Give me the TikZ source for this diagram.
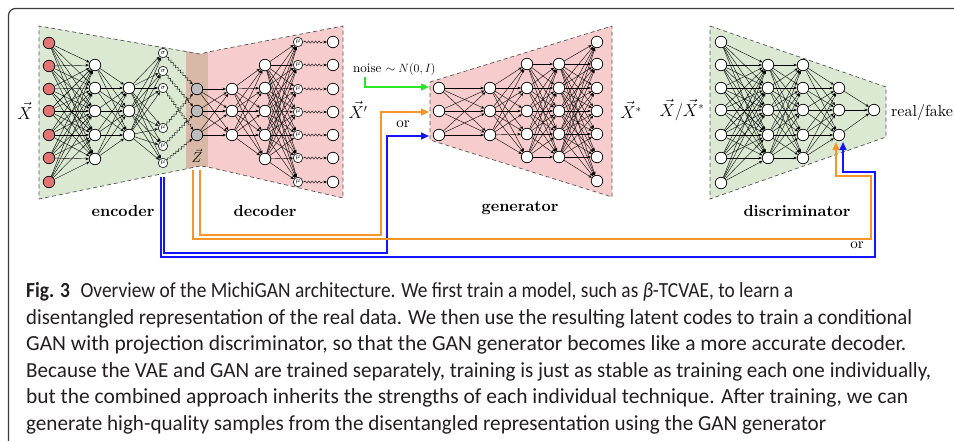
\documentclass[tikz,border=0pt]{standalone}
\usepackage{fontspec}
\usepackage{graphicx}
\setmainfont{lmroman10-regular.otf}[BoldFont=lmroman10-bold.otf, ItalicFont=lmroman10-italic.otf, BoldItalicFont=lmroman10-bolditalic.otf]
\newfontfamily\capfont{Carlito}
\usetikzlibrary{arrows.meta,decorations.pathmorphing}
\definecolor{encgreen}{RGB}{219,233,211}
\definecolor{decpink}{RGB}{246,204,204}
\definecolor{bandbrown}{RGB}{216,184,166}
\definecolor{nodered}{RGB}{226,116,116}
\definecolor{nodegray}{RGB}{190,190,190}
\definecolor{dashgray}{RGB}{85,85,85}
\definecolor{pathblue}{RGB}{20,20,255}
\definecolor{pathorange}{RGB}{247,150,40}
\definecolor{pathgreen}{RGB}{40,230,40}
\definecolor{framegray}{RGB}{60,60,60}
\definecolor{captext}{RGB}{35,31,32}
\tikzset{
  neuron/.style={circle, draw=black, line width=0.7pt, fill=white, minimum size=11.5pt, inner sep=0pt},
  inneuron/.style={neuron, fill=nodered},
  latent/.style={neuron, fill=nodegray},
  smallneuron/.style={circle, draw=black, line width=0.55pt, fill=white, minimum size=9.5pt, inner sep=0pt, font=\fontsize{7}{7}\selectfont},
  conn/.style={line width=0.4pt, -{Stealth[length=3.5pt,width=2.8pt]}},
  wavy/.style={conn, decorate, decoration={snake, amplitude=1.1pt, segment length=3.5pt, pre length=1pt, post length=3.5pt}},
  trap/.style={dashed, dash pattern=on 4pt off 3pt, draw=dashgray, line width=0.7pt},
  colpath/.style={line width=1.5pt, -{Triangle[length=8pt,width=7pt]}},
  partlabel/.style={font=\fontsize{16}{18}\selectfont\bfseries},
  veclabel/.style={font=\fontsize{16}{18}\selectfont},
  smalllabel/.style={font=\fontsize{13}{15}\selectfont},
  capline/.style={anchor=base west, inner sep=0pt, text=captext, font=\capfont\fontsize{21.5}{24}\selectfont}
}
\begin{document}
\begin{tikzpicture}[x=1pt,y=-1pt]
\useasboundingbox (0,0) rectangle (954,440);
\clip (0,0) rectangle (954,440);
\fill[white] (0,0) rectangle (954,440);
\draw[framegray, line width=1.2pt, rounded corners=7pt] (8.5,8.5) rectangle (1000,500);

% ---------- shaded regions ----------
\fill[encgreen] (39,26) -- (186,51) -- (186,169) -- (39,199) -- cycle;
\fill[bandbrown] (186,51) -- (200,54) -- (208,52) -- (208,167) -- (200,166) -- (186,169) -- cycle;
\fill[decpink] (208,52) -- (343,26) -- (343,198) -- (208,167) -- cycle;
\draw[trap] (200,166) -- (39,199) -- (39,26) -- (200,54) -- (208,52) -- (343,26) -- (343,198) -- (208,167) -- cycle;
\fill[decpink] (430,82) -- (612,26) -- (612,197) -- (430,140) -- cycle;
\draw[trap] (430,82) -- (612,26) -- (612,197) -- (430,140) -- cycle;
\fill[encgreen] (710,26) -- (886,87) -- (886,137) -- (710,199) -- cycle;
\draw[trap] (710,26) -- (886,87) -- (886,137) -- (710,199) -- cycle;

% ---------- encoder ----------
\foreach \y [count=\i] in {43,66,89,111,135,158,182} \node[inneuron] (ea\i) at (49,\y) {};
\foreach \y [count=\i] in {65,88,111,135,159} \node[neuron] (eb\i) at (95,\y) {};
\foreach \y [count=\i] in {88,111,135} \node[neuron] (ec\i) at (129,\y) {};
\foreach \y [count=\i] in {53,71,88} \node[smallneuron] (es\i) at (163,\y) {$\sigma$};
\foreach \y [count=\i] in {128,146,163} \node[smallneuron] (em\i) at (163,\y) {$\mu$};
\foreach \y [count=\i] in {89,111,135} \node[latent] (z\i) at (197,\y) {};
\foreach \i in {1,...,7} \foreach \j in {1,...,5} \draw[conn] (ea\i) -- (eb\j);
\foreach \i in {1,...,5} \foreach \j in {1,...,3} \draw[conn] (eb\i) -- (ec\j);
\foreach \i in {1,...,3} \foreach \j in {1,...,3} {\draw[conn] (ec\i) -- (es\j); \draw[conn] (ec\i) -- (em\j);}
\foreach \i in {1,...,3} {\draw[wavy] (es\i) -- (z\i); \draw[wavy] (em\i) -- (z\i);}

% ---------- decoder ----------
\foreach \y [count=\i] in {89,111,135} \node[neuron] (da\i) at (232,\y) {};
\foreach \y [count=\i] in {65,88,111,135,159} \node[neuron] (db\i) at (265,\y) {};
\foreach \y [count=\i] in {42,65,89,112,135,158,182} {
  \node[smallneuron] (dc\i) at (298,\y) {$\mu$};
  \node[neuron] (dd\i) at (333,\y) {};
}
\foreach \i in {1,...,3} \foreach \j in {1,...,3} \draw[conn] (z\i) -- (da\j);
\foreach \i in {1,...,3} \foreach \j in {1,...,5} \draw[conn] (da\i) -- (db\j);
\foreach \i in {1,...,5} \foreach \j in {1,...,7} \draw[conn] (db\i) -- (dc\j);
\foreach \i in {1,...,7} \draw[wavy] (dc\i) -- (dd\i);

% ---------- generator ----------
\foreach \y [count=\i] in {88,111,135} {\node[neuron] (ga\i) at (439,\y) {}; \node[neuron] (gb\i) at (490,\y) {};}
\foreach \y [count=\i] in {64,88,111,134,157} {\node[neuron] (gc\i) at (527,\y) {}; \node[neuron] (gd\i) at (559,\y) {};}
\foreach \y [count=\i] in {42,64,88,111,134,157,181} \node[neuron] (ge\i) at (597,\y) {};
\foreach \i in {1,...,3} \foreach \j in {1,...,3} \draw[conn] (ga\i) -- (gb\j);
\foreach \i in {1,...,3} \foreach \j in {1,...,5} \draw[conn] (gb\i) -- (gc\j);
\foreach \i in {1,...,5} \foreach \j in {1,...,5} \draw[conn] (gc\i) -- (gd\j);
\foreach \i in {1,...,5} \foreach \j in {1,...,7} \draw[conn] (gd\i) -- (ge\j);

% ---------- discriminator ----------
\foreach \y [count=\i] in {42,65,88,110,135,158,183} \node[neuron] (ca\i) at (721,\y) {};
\foreach \y [count=\i] in {65,88,110,135,158} {\node[neuron] (cb\i) at (768,\y) {}; \node[neuron] (cc\i) at (803,\y) {};}
\foreach \y [count=\i] in {88,110,135} \node[neuron] (cd\i) at (839,\y) {};
\node[neuron] (ce1) at (874,110) {};
\foreach \i in {1,...,7} \foreach \j in {1,...,5} \draw[conn] (ca\i) -- (cb\j);
\foreach \i in {1,...,5} \foreach \j in {1,...,5} \draw[conn] (cb\i) -- (cc\j);
\foreach \i in {1,...,5} \foreach \j in {1,...,3} \draw[conn] (cc\i) -- (cd\j);
\foreach \i in {1,...,3} \draw[conn] (cd\i) -- (ce1);

% ---------- labels ----------
\node[veclabel] (lx) at (25,111) {$\vec{X}$};
\node[font=\fontsize{14}{16}\selectfont] (lz) at (197,156) {$\vec{Z}$};
\node[veclabel] (lxp) at (358,110) {$\vec{X}'$};
\node[veclabel] (lxs) at (631,110) {$\vec{X}^*$};
\node[veclabel] (lxd) at (682,110) {$\vec{X}/\vec{X}^*$};
\node[veclabel, anchor=west, inner sep=0pt] (lrf) at (891,112) {real/fake};
\node[smalllabel, anchor=base west, inner sep=0pt] (noise) at (353,72) {noise $\sim N(0,I)$};
\node[smalllabel, font=\fontsize{15}{17}\selectfont] (or1) at (403,124) {or};
\node[smalllabel, font=\fontsize{15}{17}\selectfont] (or2) at (857,245) {or};
\node[partlabel] (lenc) at (123,211) {encoder};
\node[partlabel] (ldec) at (265,211) {decoder};
\node[partlabel] (lgen) at (520,208) {generator};
\node[partlabel] (ldis) at (797,211) {discriminator};

% ---------- coloured connectors ----------
\coordinate (gin1) at (429,87);
\coordinate (gin2) at (429,112);
\coordinate (gin3) at (429,136);
\coordinate (nstart) at (365,77);
\coordinate (bstartA) at (164,177);
\coordinate (bstartB) at (161,177);
\coordinate (ostartA) at (200,170);
\coordinate (ostartB) at (193,170);
\coordinate (dino) at (836,142);
\coordinate (dinb) at (843,142);
\draw[colpath, pathgreen] (nstart) |- (gin1);
\draw[colpath, pathorange] (ostartA) -- (200,235) -- (381,235) |- (gin2);
\draw[colpath, pathblue] (bstartA) -- (164,253) -- (387,253) |- (gin3);
\draw[colpath, pathorange] (ostartB) -- (193,239) -- (871,239) -- (871,176) -| (dino);
\draw[colpath, pathblue] (bstartB) -- (161,257) -- (875,257) -- (875,172) -| (dinb);

% ---------- caption ----------
\node[capline] (cap1) at (26,297) {\resizebox{767pt}{\height}{\textbf{Fig. 3}\hspace{0.55em}Overview of the MichiGAN architecture. We first train a model, such as \textit{β}-TCVAE, to learn a}};
\node[capline] (cap2) at (26,324) {\resizebox{886pt}{\height}{disentangled representation of the real data. We then use the resulting latent codes to train a conditional}};
\node[capline] (cap3) at (26,350.5) {\resizebox{880pt}{\height}{GAN with projection discriminator, so that the GAN generator becomes like a more accurate decoder.}};
\node[capline] (cap4) at (26,377) {\resizebox{905pt}{\height}{Because the VAE and GAN are trained separately, training is just as stable as training each one individually,}};
\node[capline] (cap5) at (26,403.5) {\resizebox{882pt}{\height}{but the combined approach inherits the strengths of each individual technique. After training, we can}};
\node[capline] (cap6) at (26,430) {\resizebox{800pt}{\height}{generate high-quality samples from the disentangled representation using the GAN generator}};
\end{tikzpicture}
\end{document}
